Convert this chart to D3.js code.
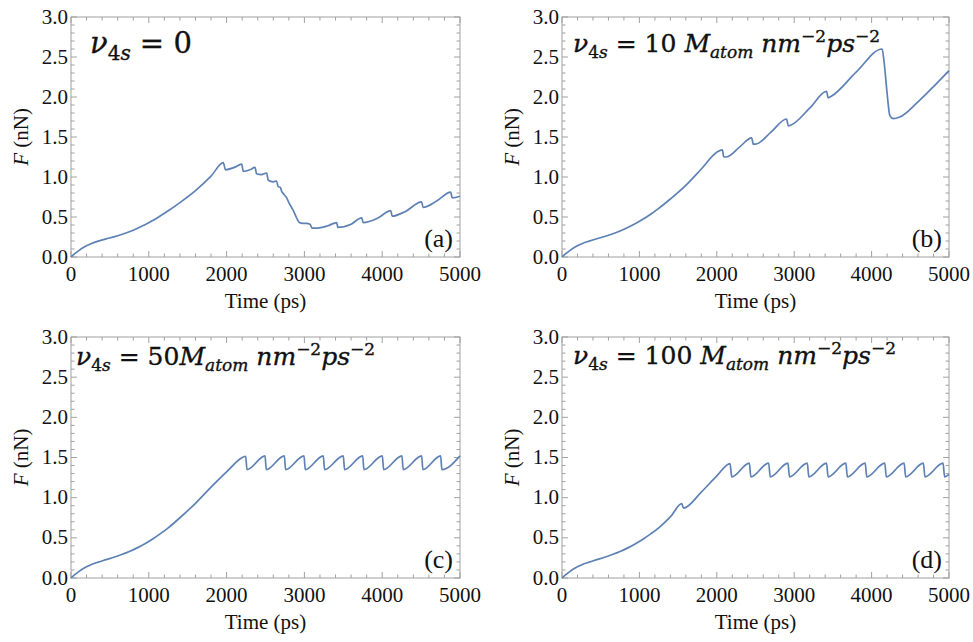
<!DOCTYPE html>
<html>
<head>
<meta charset="utf-8">
<script src="https://cdn.jsdelivr.net/npm/d3@7"></script>
<style>
  body { margin: 0; background: #fff; }
</style>
</head>
<body>
<div id="chart"></div>
<script>
// [time (ps), F (nN)]

var seriesA = [
    [0, 0], [40, 0.035], [100, 0.08], [170, 0.125], [250, 0.163], [350, 0.198], [450, 0.226],
    [550, 0.252], [650, 0.282], [750, 0.316], [850, 0.356], [950, 0.402], [1050, 0.455],
    [1150, 0.515], [1250, 0.578], [1400, 0.68], [1600, 0.83], [1800, 1.01],
    [1958, 1.18], [1985, 1.09], [2100, 1.12], [2194, 1.16], [2215, 1.07], [2300, 1.09],
    [2365, 1.12], [2385, 1.04], [2450, 1.03], [2515, 1.05], [2535, 0.96], [2600, 0.94],
    [2643, 0.95], [2662, 0.88], [2690, 0.87], [2708, 0.82], [2730, 0.79], [2772, 0.74],
    [2800, 0.68], [2858, 0.58], [2900, 0.49], [2935, 0.43], [2980, 0.42], [3029, 0.42],
    [3072, 0.41], [3100, 0.36], [3150, 0.36], [3300, 0.39], [3415, 0.43], [3430, 0.37],
    [3600, 0.41], [3736, 0.49], [3755, 0.43], [3950, 0.49], [4110, 0.58], [4128, 0.51],
    [4300, 0.57], [4507, 0.69], [4525, 0.62], [4700, 0.70], [4880, 0.81], [4900, 0.74],
    [5000, 0.76]
];

var seriesB = [
    [0, 0], [40, 0.035], [100, 0.08], [170, 0.125], [250, 0.163], [350, 0.198], [450, 0.228],
    [550, 0.256], [650, 0.288], [750, 0.325], [850, 0.368], [950, 0.418], [1050, 0.474],
    [1150, 0.538], [1250, 0.608], [1400, 0.725], [1600, 0.895], [1800, 1.10],
    [2000, 1.31], [2072, 1.34], [2090, 1.25], [2120, 1.25], [2300, 1.38], [2450, 1.49],
    [2472, 1.41], [2500, 1.41], [2700, 1.56], [2902, 1.725], [2923, 1.64], [2960, 1.65],
    [3200, 1.86], [3418, 2.07], [3439, 1.99], [3480, 2.01], [3800, 2.31], [4136, 2.60],
    [4160, 2.45], [4200, 2.05], [4235, 1.77], [4278, 1.73], [4364, 1.75], [4600, 1.94],
    [4800, 2.13], [5000, 2.33]
];

var seriesC = [
    [0, 0], [40, 0.035], [100, 0.08], [170, 0.125], [250, 0.163], [350, 0.198], [450, 0.228],
    [550, 0.258], [650, 0.292], [750, 0.33], [850, 0.375], [950, 0.426], [1050, 0.485],
    [1150, 0.552], [1250, 0.625], [1400, 0.75], [1600, 0.93], [1800, 1.13],
    [2000, 1.32], [2245, 1.515], [2262, 1.35], [2494, 1.52], [2510, 1.35], [2742, 1.52],
    [2758, 1.35], [2995, 1.52], [3011, 1.35], [3243, 1.52], [3259, 1.35], [3500, 1.52],
    [3516, 1.35], [3749, 1.52], [3765, 1.35], [4002, 1.52], [4018, 1.35], [4254, 1.52],
    [4270, 1.35], [4507, 1.52], [4523, 1.35], [4751, 1.52], [4767, 1.35], [5000, 1.52]
];

var seriesD = [
    [0, 0], [40, 0.035], [100, 0.08], [170, 0.125], [250, 0.163], [350, 0.198], [450, 0.228],
    [550, 0.258], [650, 0.292], [750, 0.33], [850, 0.375], [950, 0.426], [1050, 0.485],
    [1150, 0.552], [1250, 0.625], [1400, 0.76], [1548, 0.925], [1569, 0.87],
    [1800, 1.07], [2000, 1.27], [2171, 1.425], [2193, 1.26], [2420, 1.43], [2440, 1.26],
    [2670, 1.43], [2690, 1.26], [2919, 1.43], [2939, 1.26], [3169, 1.43], [3189, 1.26],
    [3418, 1.43], [3438, 1.26], [3667, 1.43], [3687, 1.26], [3917, 1.43], [3937, 1.26],
    [4170, 1.43], [4190, 1.26], [4420, 1.43], [4440, 1.26], [4669, 1.43], [4689, 1.26],
    [4923, 1.43], [4943, 1.26], [5000, 1.29]
];

var xTicks = [0, 1000, 2000, 3000, 4000, 5000];
var yTicks = [0, 0.5, 1.0, 1.5, 2.0, 2.5, 3.0];
var panelLetters = ["(a)", "(b)", "(c)", "(d)"];
var xLabel = "Time (ps)";

// title pieces: text + kind (i = italic, n = upright, sub / subi = subscript, sup = superscript)
var titleA = [["ν", "i"], ["4", "sub"], ["s", "subi"], [" = 0", "n"]];
var titleB = [["ν", "i"], ["4", "sub"], ["s", "subi"], [" = 10 ", "n"], ["M", "i"], ["atom", "subi"],
              [" nm", "i"], ["−2", "sup"], ["ps", "i"], ["−2", "sup"]];
var titleC = [["ν", "i"], ["4", "sub"], ["s", "subi"], [" = 50", "n"], ["M", "i"], ["atom", "subi"],
              [" nm", "i"], ["−2", "sup"], ["ps", "i"], ["−2", "sup"]];
var titleD = [["ν", "i"], ["4", "sub"], ["s", "subi"], [" = 100 ", "n"], ["M", "i"], ["atom", "subi"],
              [" nm", "i"], ["−2", "sup"], ["ps", "i"], ["−2", "sup"]];

var width = 973, height = 642;
var lineColor = "#5e81b5";
var frameColor = "#a0a0a0";

var svg = d3.select("#chart")
    .append("svg")
    .attr("width", width)
    .attr("height", height);

var panels = [
    { data: seriesA, title: titleA, left: 71,  right: 460, top: 17,  bottom: 257, tx: 90,  ty: 53,  fs: 29 },
    { data: seriesB, title: titleB, left: 562, right: 949, top: 17,  bottom: 257, tx: 573, ty: 52,  fs: 25 },
    { data: seriesC, title: titleC, left: 71,  right: 460, top: 337, bottom: 578, tx: 76,  ty: 365, fs: 25 },
    { data: seriesD, title: titleD, left: 562, right: 949, top: 337, bottom: 578, tx: 573, ty: 364, fs: 25 }
];

panels.forEach(function (p, i) {
    var x = d3.scaleLinear().domain([0, 5000]).range([p.left, p.right]);
    var y = d3.scaleLinear().domain([0, 3]).range([p.bottom, p.top]);
    var g = svg.append("g");

    // frame
    g.append("rect")
        .attr("x", p.left).attr("y", p.top)
        .attr("width", p.right - p.left).attr("height", p.bottom - p.top)
        .attr("fill", "none").attr("stroke", frameColor).attr("stroke-width", 1);

    // inward ticks on all four sides
    var xMinor = d3.range(0, 5001, 200);
    var yMinor = d3.range(0, 31).map(function (k) { return k / 10; });
    xMinor.forEach(function (t) {
        var len = t % 1000 === 0 ? 6 : 3.5;
        g.append("line").attr("x1", x(t)).attr("x2", x(t))
            .attr("y1", p.bottom).attr("y2", p.bottom - len)
            .attr("stroke", frameColor);
        g.append("line").attr("x1", x(t)).attr("x2", x(t))
            .attr("y1", p.top).attr("y2", p.top + len)
            .attr("stroke", frameColor);
    });
    yMinor.forEach(function (v, k) {
        var len = k % 5 === 0 ? 6 : 3.5;
        g.append("line").attr("y1", y(v)).attr("y2", y(v))
            .attr("x1", p.left).attr("x2", p.left + len)
            .attr("stroke", frameColor);
        g.append("line").attr("y1", y(v)).attr("y2", y(v))
            .attr("x1", p.right).attr("x2", p.right - len)
            .attr("stroke", frameColor);
    });

    // tick labels
    g.selectAll(".xt").data(xTicks).enter().append("text")
        .attr("x", function (d) { return x(d); })
        .attr("y", p.bottom + 24)
        .attr("text-anchor", "middle")
        .style("font-family", "'Liberation Serif', serif")
        .style("font-size", "21px")
        .attr("fill", "#111")
        .text(function (d) { return d; });

    g.selectAll(".yt").data(yTicks).enter().append("text")
        .attr("x", p.left - 3)
        .attr("y", function (d) { return y(d) + 6.5; })
        .attr("text-anchor", "end")
        .style("font-family", "'Liberation Serif', serif")
        .style("font-size", "21px")
        .attr("fill", "#111")
        .text(function (d) { return d.toFixed(1); });

    // axis titles
    g.append("text")
        .attr("x", (p.left + p.right) / 2)
        .attr("y", p.bottom + 51)
        .attr("text-anchor", "middle")
        .style("font-family", "'Liberation Serif', serif")
        .style("font-size", "21px")
        .attr("fill", "#111")
        .text(xLabel);

    var yl = g.append("text")
        .attr("transform", "translate(" + (p.left - 43) + "," + ((p.top + p.bottom) / 2) + ") rotate(-90)")
        .attr("text-anchor", "middle")
        .style("font-family", "'Liberation Serif', serif")
        .style("font-size", "21px")
        .attr("fill", "#111");
    yl.append("tspan").style("font-style", "italic").text("F");
    yl.append("tspan").text(" (nN)");

    // curve
    var line = d3.line()
        .x(function (d) { return x(d[0]); })
        .y(function (d) { return y(d[1]); })
        .curve(d3.curveMonotoneX);

    g.append("path")
        .datum(p.data)
        .attr("d", line)
        .attr("fill", "none")
        .attr("stroke", lineColor)
        .attr("stroke-width", 1.7);

    // panel letter
    g.append("text")
        .attr("x", p.right - 7)
        .attr("y", p.bottom - 10)
        .attr("text-anchor", "end")
        .style("font-family", "'Liberation Serif', serif")
        .style("font-size", "26px")
        .attr("fill", "#111")
        .text(panelLetters[i]);

    // title with sub / superscripts
    var subSize = Math.round(p.fs * 0.68);
    var title = g.append("text")
        .attr("x", p.tx)
        .attr("y", p.ty)
        .style("font-family", "'DejaVu Serif', serif")
        .style("font-size", p.fs + "px")
        .attr("fill", "#111")
        .attr("stroke", "#111")
        .attr("stroke-width", 0.35);
    var shift = 0;
    p.title.forEach(function (part) {
        var kind = part[1];
        var small = kind === "sub" || kind === "subi" || kind === "sup";
        var target = kind === "sub" || kind === "subi" ? p.fs * 0.25 : (kind === "sup" ? -p.fs * 0.4 : 0);
        title.append("tspan")
            .attr("dy", target - shift)
            .style("font-style", kind === "i" || kind === "subi" ? "italic" : "normal")
            .style("font-size", (small ? subSize : p.fs) + "px")
            .text(part[0]);
        shift = target;
    });
});
</script>
</body>
</html>
